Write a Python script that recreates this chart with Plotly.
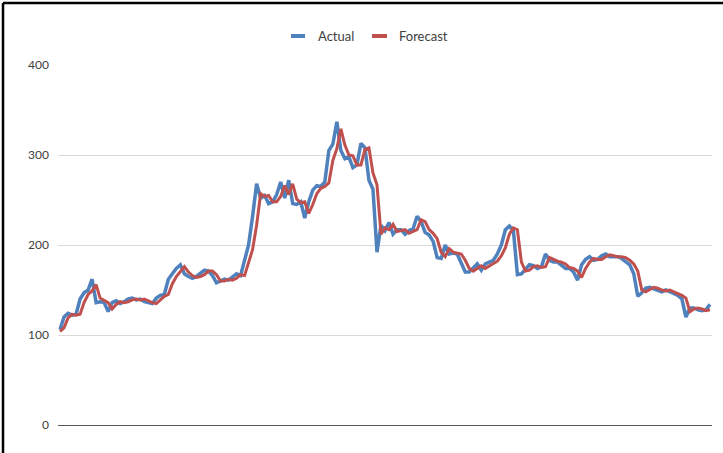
import plotly.graph_objects as go

# Weekly series: observed values and the one-step-ahead forecast
actual = [
    106, 120, 124, 122, 123, 140, 147, 150, 162, 136,
    137, 136, 126, 136, 138, 135, 137, 140, 141, 139,
    140, 137, 136, 135, 141, 144, 145, 162, 168, 174,
    178, 168, 165, 163, 165, 168, 172, 171, 166, 158,
    160, 162, 161, 164, 168, 166, 185, 200, 232, 268,
    252, 255, 246, 248, 256, 270, 252, 272, 246, 245,
    248, 230, 248, 261, 266, 265, 270, 305, 312, 337,
    305, 296, 298, 286, 289, 313, 308, 272, 262, 192,
    222, 216, 225, 212, 217, 217, 212, 216, 218, 232,
    226, 214, 211, 204, 186, 185, 200, 190, 191, 190,
    180, 170, 170, 175, 179, 172, 179, 181, 183, 190,
    200, 217, 221, 216, 167, 168, 173, 178, 177, 174,
    176, 190, 183, 181, 181, 178, 174, 174, 170, 161,
    178, 184, 187, 183, 184, 188, 190, 187, 187, 187,
    185, 182, 178, 168, 143, 147, 152, 153, 151, 149,
    148, 150, 148, 145, 144, 140, 120, 130, 130, 128,
    127, 128, 134,
]

forecast = [
    104, 108, 119, 123, 122, 123, 136, 145, 149, 156,
    141, 138, 136, 129, 134, 137, 136, 137, 139, 140,
    139, 140, 138, 136, 135, 139, 143, 145, 157, 165,
    171, 176, 170, 166, 164, 165, 167, 171, 171, 167,
    160, 160, 162, 161, 163, 167, 166, 180, 195, 222,
    257, 254, 255, 248, 248, 254, 266, 256, 268, 251,
    247, 248, 235, 245, 257, 263, 265, 269, 294, 307,
    329, 311, 300, 299, 289, 289, 306, 308, 280, 267,
    212, 219, 217, 223, 215, 216, 217, 213, 215, 217,
    228, 226, 217, 213, 207, 192, 187, 196, 192, 191,
    190, 183, 174, 171, 174, 177, 174, 177, 180, 182,
    188, 197, 212, 219, 217, 181, 171, 172, 176, 177,
    175, 176, 186, 184, 182, 181, 179, 175, 174, 171,
    164, 174, 181, 185, 184, 184, 187, 189, 188, 187,
    187, 186, 183, 179, 171, 150, 148, 151, 153, 152,
    150, 149, 150, 148, 146, 144, 141, 126, 129, 130,
    129, 127, 128,
]

y_ticks = [0, 100, 200, 300, 400]
series_names = ["Actual", "Forecast"]

BLUE = "#4F81BD"
RED = "#C0504D"
TEXT = "#404040"
FONT = "Lato"

W, H = 723, 453
L, R, T, B = 58, 11, 65, 28
PW, PH = W - L - R, H - T - B

periods = list(range(len(actual)))

fig = go.Figure()
fig.add_trace(go.Scatter(x=periods, y=actual, mode="lines", name=series_names[0],
                         line=dict(color=BLUE, width=3.5), showlegend=False))
fig.add_trace(go.Scatter(x=periods, y=forecast, mode="lines", name=series_names[1],
                         line=dict(color=RED, width=3), showlegend=False))


def px_x(p):
    return (p - L) / PW


def px_y(p):
    return (H - B - p) / PH


shapes = []
annotations = []

# Legend drawn as short bars with labels, centred above the plot
legend_items = [(291, 305, 316, series_names[0], BLUE),
                (372, 387, 397, series_names[1], RED)]
for x0, x1, tx, label, col in legend_items:
    shapes.append(dict(type="rect", xref="paper", yref="paper",
                       x0=px_x(x0), x1=px_x(x1), y0=px_y(38), y1=px_y(34),
                       fillcolor=col, line=dict(width=0)))
    annotations.append(dict(text=label, xref="paper", yref="paper",
                            x=px_x(tx), y=px_y(36), xanchor="left", yanchor="middle",
                            showarrow=False, font=dict(family=FONT, size=13, color=TEXT)))

# Frame around the chart area (top and left edges)
shapes.append(dict(type="line", xref="paper", yref="paper",
                   x0=px_x(3), x1=px_x(W + 2), y0=px_y(3), y1=px_y(3),
                   line=dict(color="#000000", width=2.5)))
shapes.append(dict(type="line", xref="paper", yref="paper",
                   x0=px_x(3), x1=px_x(3), y0=px_y(3), y1=px_y(H + 2),
                   line=dict(color="#000000", width=2.5)))

fig.update_layout(
    width=W, height=H,
    margin=dict(l=L, r=R, t=T, b=B),
    paper_bgcolor="white", plot_bgcolor="white",
    shapes=shapes, annotations=annotations,
    xaxis=dict(range=[-0.5, len(actual) - 0.5], showgrid=False, zeroline=False,
               showticklabels=False, showline=False, ticks=""),
    yaxis=dict(range=[0, 400], tickvals=y_ticks, showgrid=True, gridcolor="#D9D9D9",
               gridwidth=1, zeroline=True, zerolinecolor="#595959", zerolinewidth=1.2,
               showline=False, ticks="", ticklabelstandoff=8,
               tickfont=dict(family=FONT, size=12, color=TEXT)),
)

fig.write_html("out.html")
